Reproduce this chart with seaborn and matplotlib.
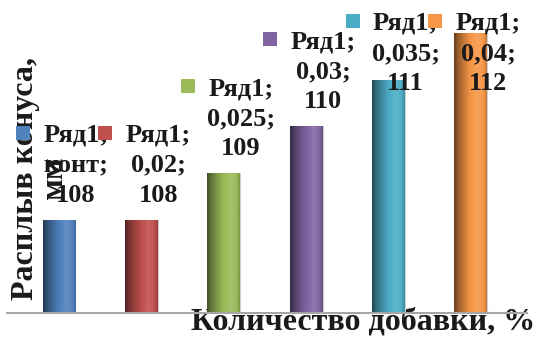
import numpy as np
import matplotlib
matplotlib.use("Agg")
import matplotlib.pyplot as plt
from matplotlib.transforms import offset_copy
from matplotlib.colors import to_rgb
import seaborn as sns

# Data
series_name = "Ряд1"
categories = ["конт", "0,02", "0,025", "0,03", "0,035", "0,04"]
values = [108, 108, 109, 110, 111, 112]
colors = ["#4F81BD", "#C0504D", "#9BBB59", "#8064A2", "#4BACC6", "#F79646"]

sns.set_theme(style="white")
plt.rcParams["font.family"] = ["Liberation Serif", "DejaVu Serif"]
plt.rcParams["font.weight"] = "bold"

fig = plt.figure(figsize=(5.36, 3.37), dpi=100)
ax = fig.add_axes([7 / 536, 24 / 337, 520 / 536, 308 / 337])

sns.barplot(x=categories, y=values, hue=categories, palette=colors,
            legend=False, width=0.4, ax=ax, saturation=1)

ymin, ymax = 106, 112.6
xlo, xhi = -0.631, 5.68


def shade(rgb, f):
    rgb = np.array(rgb)
    if f <= 1:
        return rgb * f
    return rgb + (1 - rgb) * (f - 1)


# cylinder-like horizontal shading clipped to each bar
stops = np.array([0.0, 0.12, 0.45, 0.72, 0.9, 1.0])
factors = np.array([0.42, 0.62, 0.95, 1.12, 1.02, 0.8])
xs = np.linspace(0, 1, 64)
for patch, col in zip(ax.patches, colors):
    base = to_rgb(col)
    fvals = np.interp(xs, stops, factors)
    grad = np.array([shade(base, f) for f in fvals])[None, :, :]
    x0 = patch.get_x()
    w = patch.get_width()
    top = patch.get_y() + patch.get_height()
    patch.set_edgecolor("#d0d0d0")
    patch.set_linewidth(0.8)
    im = ax.imshow(grad, extent=(x0, x0 + w, ymin, top), aspect="auto",
                   interpolation="bicubic", zorder=patch.get_zorder() + 0.1)
    im.set_clip_path(patch)
ax.set_xlim(xlo, xhi)
ax.set_ylim(ymin, ymax)

# axes styling
for side in ["left", "right", "top"]:
    ax.spines[side].set_visible(False)
ax.spines["bottom"].set_color("#a6a6a6")
ax.spines["bottom"].set_linewidth(1.5)
ax.set_xticks([])
ax.set_yticks([])

ax.set_xlabel("Количество добавки, %", fontsize=23, fontweight="bold",
              color="#1a1a1a")
ax.xaxis.set_label_coords(0.685, 0.018)
ax.set_ylabel("Расплыв конуса,\nмм", fontsize=23, fontweight="bold",
              rotation=90, ha="center", va="center", rotation_mode="default",
              multialignment="center", linespacing=1.0, color="#1a1a1a")
ax.yaxis.set_label_coords((40 - 7) / 520, (313 - 178) / 308)

# data labels: series marker + "series; category; value"
label_cap = 110.78
px_per_unit = 308 / (ymax - ymin)
line_gap = 30
for i, (cat, val, col) in enumerate(zip(categories, values, colors)):
    anchor = min(val + 18 / px_per_unit, label_cap)
    lines = [f"{series_name};", f"{cat};", f"{val}"]
    for k, line in enumerate(lines):
        dy = (2 - k) * line_gap
        tr = offset_copy(ax.transData, fig=fig, x=17, y=dy, units="dots")
        ax.text(i, anchor, line, transform=tr, ha="center", va="baseline",
                fontsize=19, fontweight="bold", color="#1a1a1a", zorder=5)
    trm = offset_copy(ax.transData, fig=fig, x=17 - 53, y=2 * line_gap + 9,
                      units="dots")
    ax.plot([i], [anchor], marker="s", ms=9.4, mew=0, color=col,
            transform=trm, zorder=5, clip_on=False)

fig.savefig("out.png", dpi=100)
